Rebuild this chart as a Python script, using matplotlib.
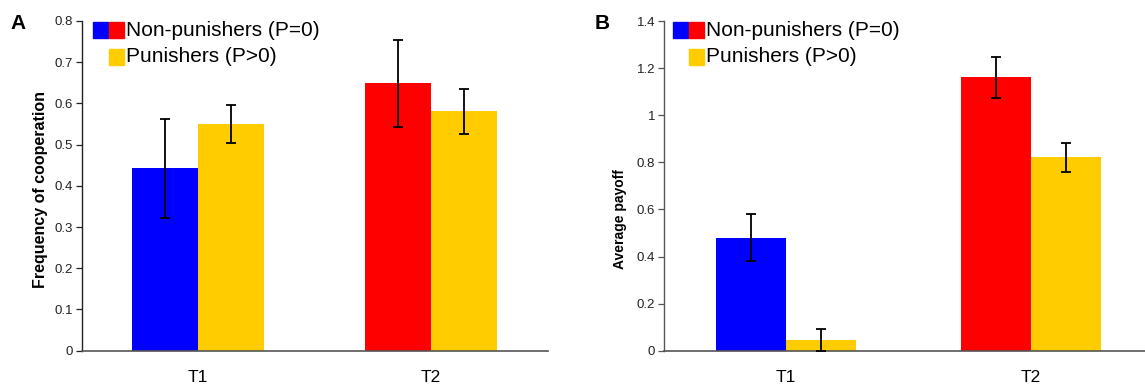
import numpy as np
import matplotlib.pyplot as plt
from matplotlib.patches import Rectangle

plt.rcParams['font.family'] = ['Liberation Sans', 'DejaVu Sans']

W, H = 1145, 385

# data
groups = ['T1', 'T2']
np_colors = ['#0000ff', '#ff0000']   # non-punishers: blue in T1, red in T2
p_color = '#ffcc00'                  # punishers

coop_np = [0.443, 0.649]
coop_np_lo = [0.323, 0.544]
coop_np_hi = [0.562, 0.755]
coop_p = [0.550, 0.581]
coop_p_lo = [0.504, 0.525]
coop_p_hi = [0.595, 0.634]

pay_np = [0.478, 1.161]
pay_np_lo = [0.379, 1.073]
pay_np_hi = [0.579, 1.247]
pay_p = [0.044, 0.822]
pay_p_lo = [0.0, 0.758]
pay_p_hi = [0.093, 0.883]

bw = 0.285


def px(x, y):
    # pixel (from top-left) -> figure fraction
    return x / W, 1 - y / H


def draw_panel(ax, v_np, lo_np, hi_np, v_p, lo_p, hi_p, ymax, ystep, spine_col):
    x = np.arange(len(groups))
    ax.bar(x - bw / 2, v_np, bw, color=np_colors, zorder=2)
    ax.bar(x + bw / 2, v_p, bw, color=p_color, zorder=2)
    v_np = np.array(v_np); v_p = np.array(v_p)
    ax.errorbar(x - bw / 2, v_np, yerr=[v_np - np.array(lo_np), np.array(hi_np) - v_np],
                fmt='none', ecolor='black', elinewidth=1.3, capsize=3.5, capthick=1.3, zorder=3)
    ax.errorbar(x + bw / 2, v_p, yerr=[v_p - np.array(lo_p), np.array(hi_p) - v_p],
                fmt='none', ecolor='black', elinewidth=1.3, capsize=3.5, capthick=1.3, zorder=3)
    ax.set_ylim(0, ymax)
    ticks = np.arange(0, ymax + 1e-9, ystep)
    ax.set_yticks(ticks)
    ax.set_yticklabels(['0' if t == 0 else ('%g' % round(t, 1)) for t in ticks])
    ax.set_xticks(x)
    ax.set_xticklabels(groups, fontsize=12.5)
    ax.tick_params(axis='x', length=0, pad=14)
    ax.tick_params(axis='y', length=4, width=0.9, labelsize=9.5, colors='#222222', pad=2,
                   color=spine_col)
    for s in ['top', 'right']:
        ax.spines[s].set_visible(False)
    ax.spines['left'].set_color(spine_col)
    ax.spines['bottom'].set_color('#555555')
    ax.spines['left'].set_linewidth(1.0)
    ax.spines['bottom'].set_linewidth(1.2)


def draw_legend(fig, x0):
    # x0 = pixel position of the left spine
    for dx, dy, c in [(11, 22, np_colors[0]), (27, 22, np_colors[1]), (27, 49, p_color)]:
        fx, fy = px(x0 + dx, dy + 16)
        fig.add_artist(Rectangle((fx, fy), 15 / W, 16 / H, color=c,
                                 transform=fig.transFigure))
    fig.text(*px(x0 + 44, 30), 'Non-punishers (P=0)', fontsize=15, va='center', ha='left')
    fig.text(*px(x0 + 44, 57), 'Punishers (P>0)', fontsize=15, va='center', ha='left')


fig = plt.figure(figsize=(W / 100, H / 100), dpi=100)

bottom = 1 - 350.7 / H
height = (350.7 - 21) / H

ax1 = fig.add_axes([81.5 / W, bottom, 466 / W, height])
ax1.set_xlim(-0.5, 1.5)
draw_panel(ax1, coop_np, coop_np_lo, coop_np_hi, coop_p, coop_p_lo, coop_p_hi,
           0.8, 0.1, '#222222')
ax1.set_ylabel('Frequency of cooperation', fontsize=11.5, fontweight='bold')
ax1.yaxis.set_label_coords(-0.072, 0.49)

ax2 = fig.add_axes([663.5 / W, bottom, (W - 663.5) / W, height])
ax2.set_xlim(-0.5, 1.465)
draw_panel(ax2, pay_np, pay_np_lo, pay_np_hi, pay_p, pay_p_lo, pay_p_hi,
           1.4, 0.2, '#555555')
ax2.set_ylabel('Average payoff', fontsize=10, fontweight='bold')
ax2.yaxis.set_label_coords(-0.075, 0.40)

draw_legend(fig, 82)
draw_legend(fig, 662)

fig.text(*px(10, 29), 'A', fontsize=15, fontweight='bold', ha='left', va='baseline')
fig.text(*px(595, 29), 'B', fontsize=15, fontweight='bold', ha='left', va='baseline')

fig.savefig('out.png', dpi=100)
